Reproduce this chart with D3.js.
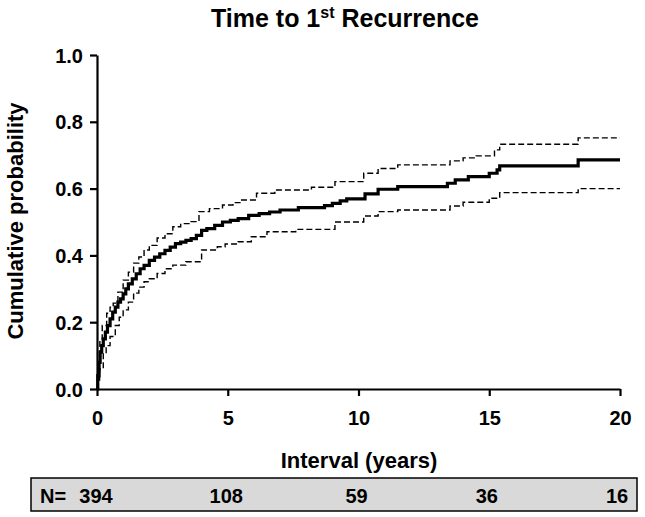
<!DOCTYPE html>
<html><head><meta charset="utf-8">
<script src="https://cdn.jsdelivr.net/npm/d3@7"></script>
<style>body{margin:0;background:#fff}svg{display:block}text{font-family:"Liberation Sans",Arial,sans-serif;font-weight:bold}</style>
</head><body>
<script>
const mainT = [0,0.03,0.08,0.12,0.18,0.24,0.32,0.4,0.5,0.6,0.7,0.8,0.9,1.0,1.1,1.2,1.35,1.5,1.65,1.8,2.0,2.2,2.4,2.6,2.8,3.0,3.2,3.4,3.6,3.8,4.0,4.2,4.5,4.8,5.1,5.4,5.8,6.2,6.6,7.0,7.7,8.7,9.0,9.3,9.55,10.25,10.75,11.5,13.4,13.7,14.2,15.0,15.3,15.4,18.4,20];
const mainV = [0,0.04,0.08,0.11,0.13,0.15,0.17,0.19,0.21,0.23,0.245,0.26,0.27,0.285,0.30,0.315,0.33,0.345,0.36,0.37,0.385,0.395,0.405,0.415,0.425,0.435,0.44,0.445,0.45,0.46,0.475,0.48,0.49,0.5,0.505,0.51,0.52,0.525,0.53,0.536,0.543,0.549,0.556,0.563,0.569,0.584,0.598,0.606,0.616,0.626,0.636,0.646,0.656,0.668,0.686,0.686];
const upperT = [0,0.05,0.11,0.2,0.37,0.5,0.62,0.8,1.0,1.2,1.4,1.6,1.8,2.0,2.3,2.6,2.9,3.2,3.6,3.9,4.3,4.8,5.2,5.5,6.1,6.8,8.2,9.1,10.2,10.75,11.5,13.5,14.0,14.5,15.2,15.4,18.4,20];
const upperV = [0,0.08,0.147,0.19,0.227,0.245,0.257,0.29,0.326,0.35,0.377,0.395,0.416,0.43,0.452,0.465,0.486,0.495,0.501,0.531,0.54,0.551,0.558,0.566,0.586,0.596,0.604,0.621,0.646,0.66,0.671,0.683,0.692,0.698,0.716,0.733,0.752,0.752];
const lowerT = [0,0.02,0.1,0.24,0.35,0.5,0.7,0.85,1.0,1.2,1.4,1.6,1.8,2.0,2.3,2.6,2.9,3.4,4.0,4.6,4.9,5.4,5.9,6.5,7.6,9.1,10.2,10.75,11.5,13.5,14.0,15.0,15.4,18.4,20];
const lowerV = [0,0.027,0.06,0.107,0.13,0.157,0.19,0.215,0.237,0.26,0.287,0.305,0.321,0.33,0.346,0.36,0.371,0.381,0.416,0.426,0.434,0.441,0.456,0.471,0.478,0.50,0.518,0.531,0.536,0.548,0.559,0.571,0.588,0.60,0.60];
const xTicks = [0,5,10,15,20];
const yTicks = [0,0.2,0.4,0.6,0.8,1.0];
const atRiskYears = [0,5,10,15,20];
const atRiskN = [394,108,59,36,16];

const W=645,H=517;
const svg=d3.select("body").append("svg").attr("width",W).attr("height",H);
const x=d3.scaleLinear().domain([0,20]).range([97,620]);
const y=d3.scaleLinear().domain([0,1]).range([389,55]);

// title
const title=svg.append("text").attr("x",345).attr("y",27).attr("text-anchor","middle").style("font-size","25px");
title.append("tspan").text("Time to 1");
title.append("tspan").text("st").attr("dy",-9).style("font-size","16px");
title.append("tspan").text(" Recurrence").attr("dy",9);

// axes
const yAxis=svg.append("g").attr("transform","translate(97,0)")
  .call(d3.axisLeft(y).tickValues(yTicks).tickFormat(d3.format(".1f")).tickSize(7).tickSizeOuter(0));
const xAxis=svg.append("g").attr("transform","translate(0,389)")
  .call(d3.axisBottom(x).tickValues(xTicks).tickSize(7).tickSizeOuter(0));
[yAxis,xAxis].forEach(a=>{
  a.select(".domain").attr("stroke","#000").attr("stroke-width",2.2);
  a.selectAll(".tick line").attr("stroke","#000").attr("stroke-width",2.2);
  a.selectAll(".tick text").attr("fill","#000").style("font-size","20px").style("font-family","Liberation Sans, Arial, sans-serif").style("font-weight","bold");
});
yAxis.selectAll(".tick text").attr("x",-14).attr("dy","0.35em");
xAxis.selectAll(".tick text").attr("y",22).attr("dy","0.71em");

svg.append("text").attr("transform","translate(23,221) rotate(-90)").attr("text-anchor","middle").style("font-size","22px").text("Cumulative probability");
svg.append("text").attr("x",359).attr("y",468).attr("text-anchor","middle").style("font-size","22px").text("Interval (years)");

// curves
const line=d3.line().x(d=>x(d[0])).y(d=>y(d[1])).curve(d3.curveStepAfter);
const zip=(a,b)=>a.map((t,i)=>[t,b[i]]);
svg.append("path").attr("d",line(zip(upperT,upperV))).attr("fill","none").attr("stroke","#000").attr("stroke-width",1.4).attr("stroke-dasharray","6,3");
svg.append("path").attr("d",line(zip(lowerT,lowerV))).attr("fill","none").attr("stroke","#000").attr("stroke-width",1.4).attr("stroke-dasharray","6,3");
svg.append("path").attr("d",line(zip(mainT,mainV))).attr("fill","none").attr("stroke","#000").attr("stroke-width",3.2);

// at-risk box
svg.append("rect").attr("x",31).attr("y",478).attr("width",606).attr("height",33).attr("fill","#d9d9d9").attr("stroke","#000").attr("stroke-width",1.5);
svg.append("text").attr("x",40).attr("y",503).style("font-size","20px").text("N=");
const nx=d3.scaleLinear().domain([0,20]).range([96,617]);
svg.selectAll(".nr").data(atRiskN).enter().append("text")
  .attr("x",(d,i)=>nx(atRiskYears[i])).attr("y",503)
  .attr("text-anchor","middle")
  .style("font-size","20px").text(d=>d);
</script>
</body></html>
